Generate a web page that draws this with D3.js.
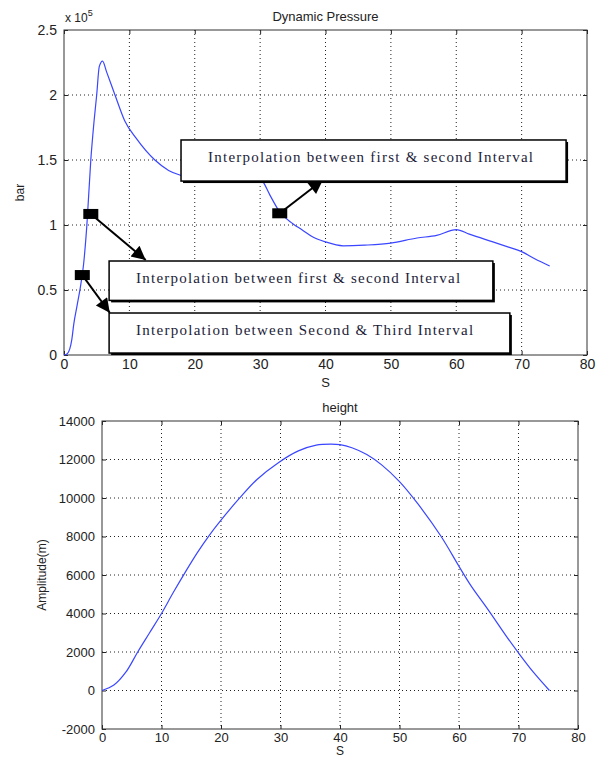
<!DOCTYPE html>
<html><head><meta charset="utf-8">
<script src="https://cdn.jsdelivr.net/npm/d3@7"></script>
<style>html,body{margin:0;padding:0;background:#fff;} svg{display:block;}</style>
</head><body>
<script>
// ---------- DATA ----------
// Dynamic pressure (S, bar)
const pressureS = [0,0.5,1.2,1.5,2.0,2.5,3.0,3.5,4.1,4.6,5.0,5.4,5.9,6.5,7.8,9.3,11,13.9,16,18,20,22,24,27,29,30.2,31.5,33,35,36.5,38,40,42.7,46,50,54,57,60,62,65.6,68,70,72,74.3];
const pressureV = [0,1000,12000,24000,38000,52000,70000,100000,150000,180000,200000,222000,226000,218000,200000,180000,167000,150000,142000,138000,135000,134000,135000,138000,138000,135000,123000,110000,101000,96000,91000,87000,84000,84500,86000,90000,92000,96500,93000,87000,83000,79500,74000,68500];
const pressureXTicks = [0,10,20,30,40,50,60,70,80];
const pressureYTicks = [0,50000,100000,150000,200000,250000];
const pressureYLabels = ["0","0.5","1","1.5","2","2.5"];

// Height (S, m)
const heightS = [0,2,4,6,8,10,12,14,16,18,20,23,26,29.7,33,36,38.5,40,42,44.5,47,50,53,57,60,62,65,68,70,72.5,75.2];
const heightV = [0,280,950,2000,3000,4000,5100,6150,7150,8050,8850,9950,10950,11850,12450,12750,12800,12770,12610,12260,11720,10850,9730,8000,6450,5450,4150,2800,1950,950,0];
const heightXTicks = [0,10,20,30,40,50,60,70,80];
const heightYTicks = [-2000,0,2000,4000,6000,8000,10000,12000,14000];

// Annotations (data coordinates of the pressure chart)
const annText = ["Interpolation between first & second Interval","Interpolation between first & second Interval","Interpolation between Second & Third Interval"];
const annBoxX0 = [17.9, 6.9, 6.9];
const annBoxX1 = [76.8, 65.6, 68.2];
const annBoxTop = [165400, 72300, 32300];
const annBoxBot = [133800, 42000, 1500];
const annMarkS = [33.0, 4.1, 2.8];
const annMarkV = [109000, 108500, 61500];
const annTipS = [39.6, 12.5, 7.0];
const annTipV = [134600, 73000, 32500];

// ---------- DRAW ----------
const W = 603, H = 757;
const svg = d3.select("body").append("svg").attr("width", W).attr("height", H)
  .style("font-family", "'Liberation Sans', Arial, sans-serif");

function panel(cfg) {
  const x = d3.scaleLinear().domain(cfg.xd).range([cfg.l, cfg.r]);
  const y = d3.scaleLinear().domain(cfg.yd).range([cfg.b, cfg.t]);
  const g = svg.append("g");
  // grid
  g.selectAll(".gx").data(cfg.xt.filter(v => v !== cfg.xd[0] && v !== cfg.xd[1])).enter()
    .append("line").attr("x1", d => x(d)).attr("x2", d => x(d)).attr("y1", cfg.t).attr("y2", cfg.b)
    .attr("stroke", "#222").attr("stroke-width", 1).attr("stroke-dasharray", "1,3");
  g.selectAll(".gy").data(cfg.yt.filter(v => v !== cfg.yd[0] && v !== cfg.yd[1])).enter()
    .append("line").attr("y1", d => y(d)).attr("y2", d => y(d)).attr("x1", cfg.l).attr("x2", cfg.r)
    .attr("stroke", "#222").attr("stroke-width", 1).attr("stroke-dasharray", "1,3");
  // axes (ticks inward)
  const ax = (axisFn, scale, ticks, fmt, pad) => axisFn(scale).tickValues(ticks).tickSize(-4).tickPadding(pad).tickFormat(fmt);
  const fsz = cfg.fs;
  const bottom = g.append("g").attr("transform", `translate(0,${cfg.b})`)
    .call(ax(d3.axisBottom, x, cfg.xt, d => d, 4));
  const left = g.append("g").attr("transform", `translate(${cfg.l},0)`)
    .call(ax(d3.axisLeft, y, cfg.yt, (d, i) => cfg.yl[i], 7));
  const top = g.append("g").attr("transform", `translate(0,${cfg.t})`)
    .call(ax(d3.axisTop, x, cfg.xt, "", 0));
  const right = g.append("g").attr("transform", `translate(${cfg.r},0)`)
    .call(ax(d3.axisRight, y, cfg.yt, "", 0));
  [bottom, left, top, right].forEach(a => {
    a.selectAll("path.domain").remove();
    a.selectAll("line").attr("stroke", "#222");
    a.selectAll("text").attr("font-size", fsz).attr("fill", "#222").attr("font-family", "'Liberation Sans', Arial, sans-serif");
  });
  bottom.selectAll("text").attr("dy", "0.71em");
  // frame
  g.append("rect").attr("x", cfg.l).attr("y", cfg.t).attr("width", cfg.r - cfg.l).attr("height", cfg.b - cfg.t)
    .attr("fill", "none").attr("stroke", "#333").attr("stroke-width", 1);
  // line
  const line = d3.line().x(d => x(d[0])).y(d => y(d[1])).curve(cfg.curve);
  g.append("path").datum(cfg.xs.map((s, i) => [s, cfg.vs[i]]))
    .attr("d", line).attr("fill", "none").attr("stroke", "#3a46ff").attr("stroke-width", 1.2);
  // title
  g.append("text").attr("x", (cfg.l + cfg.r) / 2).attr("y", cfg.t - 9).attr("text-anchor", "middle")
    .attr("font-size", 13).attr("fill", "#222").text(cfg.title);
  g.append("text").attr("x", (cfg.l + cfg.r) / 2).attr("y", cfg.xly).attr("text-anchor", "middle")
    .attr("font-size", cfg.xlfs).attr("fill", "#222").text("S");
  g.append("text").attr("transform", `translate(${cfg.ylx},${(cfg.t + cfg.b) / 2}) rotate(-90)`)
    .attr("text-anchor", "middle").attr("font-size", 12).attr("fill", "#222").text(cfg.ylabel);
  return {x, y, g};
}

const P = panel({xd: [0, 80], yd: [0, 250000], l: 64, r: 587, t: 30, b: 355,
  xt: pressureXTicks, yt: pressureYTicks, yl: pressureYLabels, xs: pressureS, vs: pressureV,
  title: "Dynamic Pressure", ylabel: "bar", ylx: 24, xly: 387, xlfs: 13, fs: 14, curve: d3.curveMonotoneX});

// x 10^5 multiplier
const mult = svg.append("text").attr("x", 65).attr("y", 22).attr("font-size", 12).attr("fill", "#222");
mult.append("tspan").text("x 10");
mult.append("tspan").attr("dy", -6).attr("font-size", 9).text("5");

const Hh = panel({xd: [0, 80], yd: [-2000, 14000], l: 102, r: 578, t: 421, b: 729,
  xt: heightXTicks, yt: heightYTicks, yl: heightYTicks.map(String), xs: heightS, vs: heightV,
  title: "height", ylabel: "Amplitude(m)", ylx: 46, xly: 755, xlfs: 12, fs: 13, curve: d3.curveCatmullRom.alpha(0.5)});

// annotations
const defs = svg.append("defs");
defs.append("marker").attr("id", "ah").attr("viewBox", "0 0 10 10").attr("refX", 10).attr("refY", 5)
  .attr("markerWidth", 19).attr("markerHeight", 14).attr("markerUnits", "userSpaceOnUse")
  .attr("orient", "auto").append("path").attr("d", "M0,0 L10,5 L0,10 Z").attr("fill", "#000");

const ann = svg.append("g");
annText.forEach((t, i) => {
  const mx = P.x(annMarkS[i]), my = P.y(annMarkV[i]);
  ann.append("line").attr("x1", mx).attr("y1", my).attr("x2", P.x(annTipS[i])).attr("y2", P.y(annTipV[i]))
    .attr("stroke", "#000").attr("stroke-width", 2).attr("marker-end", "url(#ah)");
  ann.append("rect").attr("x", mx - 7.5).attr("y", my - 5).attr("width", 15).attr("height", 10).attr("fill", "#000");
});
annText.forEach((t, i) => {
  const x0 = P.x(annBoxX0[i]), x1 = P.x(annBoxX1[i]);
  const y0 = P.y(annBoxTop[i]), y1 = P.y(annBoxBot[i]);
  ann.append("rect").attr("x", x0 + 2).attr("y", y0 + 2).attr("width", x1 - x0).attr("height", y1 - y0).attr("fill", "#000");
  ann.append("rect").attr("x", x0).attr("y", y0).attr("width", x1 - x0).attr("height", y1 - y0)
    .attr("fill", "#fff").attr("stroke", "#000").attr("stroke-width", 1.5);
  const tw = [325, 324, 337][i];
  ann.append("text").attr("x", x0 + 27).attr("y", y0 + 22)
    .attr("font-family", "'Liberation Serif', 'Times New Roman', serif").attr("font-size", 15)
    .attr("fill", "#1c1c38").attr("textLength", tw).attr("lengthAdjust", "spacing").text(t);
});
</script>
</body></html>
